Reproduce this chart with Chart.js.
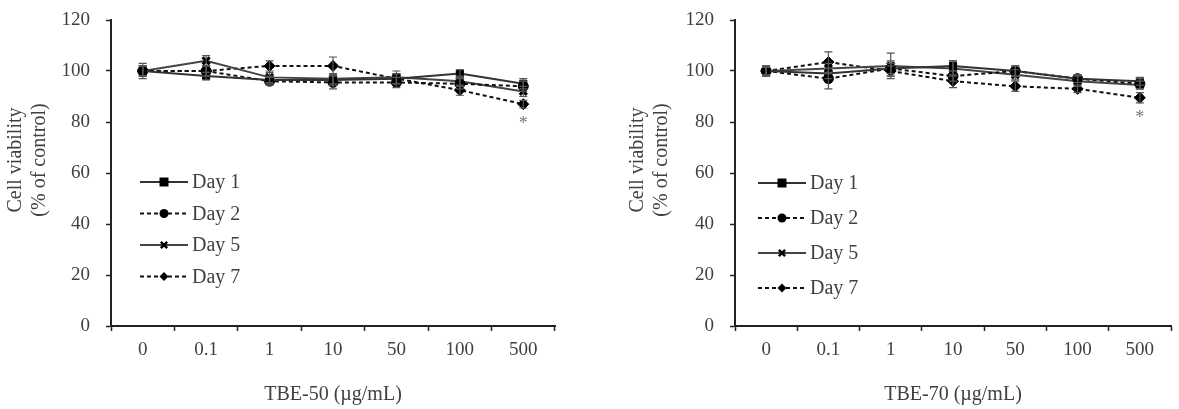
<!DOCTYPE html>
<html>
<head>
<meta charset="utf-8">
<script src="https://cdn.jsdelivr.net/npm/chart.js@4.4.0/dist/chart.umd.min.js"></script>
<style>
    html, body { margin: 0; padding: 0; background: #fff; }
    #wrap { position: relative; width: 1179px; height: 409px; }
    .box { position: absolute; top: 0; height: 409px; }
    #boxA { left: 0; width: 590px; }
    #boxB { left: 590px; width: 589px; }
</style>
</head>
<body>
<div id="wrap">
    <div class="box" id="boxA"><canvas id="chartA"></canvas></div>
    <div class="box" id="boxB"><canvas id="chartB"></canvas></div>
</div>
<script>
// concentrations (µg/mL)
const doses = ['0', '0.1', '1', '10', '50', '100', '500'];
const seriesNames = ['Day 1', 'Day 2', 'Day 5', 'Day 7'];
const yTicks = [0, 20, 40, 60, 80, 100, 120];
const yTitle = ['Cell viability', '(% of control)'];

// TBE-50, cell viability (% of control)
const tbe50Day1 = [100, 98, 96.5, 96.5, 97, 99, 95];
const tbe50Day2 = [100, 100, 96, 95.5, 95.5, 95, 94];
const tbe50Day5 = [100, 104, 97.5, 97, 97.5, 96, 92];
const tbe50Day7 = [100, 100, 102, 102, 97, 92.5, 87];
const tbe50Err1 = [3, 1.5, 1.5, 2, 2, 1.5, 2];
const tbe50Err2 = [2, 2, 1.5, 2.5, 2, 2, 2];
const tbe50Err5 = [2, 2, 2, 2, 2.5, 2, 2];
const tbe50Err7 = [2, 2, 2, 3.5, 2, 2, 1.5];

// TBE-70, cell viability (% of control)
const tbe70Day1 = [100, 99, 101, 102, 100, 97, 96];
const tbe70Day2 = [100, 97, 101, 98, 100, 97, 95];
const tbe70Day5 = [100, 101, 102, 101, 98.5, 96, 94.5];
const tbe70Day7 = [100, 103.5, 100, 96, 94, 93, 89.5];
const tbe70Err1 = [2, 2, 2, 2, 2, 1.5, 1.5];
const tbe70Err2 = [1.5, 4, 3, 2, 2, 1.5, 2];
const tbe70Err5 = [2, 2, 5, 3, 2, 2, 1.5];
const tbe70Err7 = [1.5, 4, 2, 2.5, 2, 1.5, 2];

// significance marks (Day 7)
const sigDay7 = ['', '', '', '', '', '', '*'];

const FONT = '"Liberation Serif", "Times New Roman", serif';
const TEXT = '#404040';
const AXIS = '#222';

const seriesStyle = [
    { color: '#333', dash: [], marker: 'rect', radius: 5 },
    { color: '#111', dash: [4, 3], marker: 'circle', radius: 5 },
    { color: '#444', dash: [], marker: 'crossRot', radius: 5 },
    { color: '#111', dash: [4, 3], marker: 'rectRot', radius: 5.5 }
];

function makeDatasets(values, errors) {
    return values.map((vals, i) => ({
        label: seriesNames[i],
        data: vals,
        errors: errors[i],
        sig: i === 3 ? sigDay7 : null,
        borderColor: seriesStyle[i].color,
        borderDash: seriesStyle[i].dash,
        borderWidth: 2,
        pointStyle: seriesStyle[i].marker,
        pointRadius: seriesStyle[i].radius,
        pointBackgroundColor: '#000',
        pointBorderColor: '#000',
        pointBorderWidth: i === 2 ? 3 : 1,
        tension: 0,
        fill: false
    }));
}

// error bars + significance asterisk, drawn through the scales
const errorBars = {
    id: 'errorBars',
    afterDatasetsDraw(chart) {
        const ctx = chart.ctx;
        const y = chart.scales.y;
        ctx.save();
        chart.data.datasets.forEach((ds, di) => {
            const meta = chart.getDatasetMeta(di);
            meta.data.forEach((pt, j) => {
                const e = ds.errors[j];
                const top = y.getPixelForValue(ds.data[j] + e);
                const bot = y.getPixelForValue(ds.data[j] - e);
                ctx.strokeStyle = '#555';
                ctx.lineWidth = 1.2;
                ctx.setLineDash([]);
                ctx.beginPath();
                ctx.moveTo(pt.x, top); ctx.lineTo(pt.x, bot);
                ctx.moveTo(pt.x - 4, top); ctx.lineTo(pt.x + 4, top);
                ctx.moveTo(pt.x - 4, bot); ctx.lineTo(pt.x + 4, bot);
                ctx.stroke();
                if (ds.sig && ds.sig[j]) {
                    ctx.fillStyle = '#777';
                    ctx.font = '18px ' + FONT;
                    ctx.textAlign = 'center';
                    ctx.textBaseline = 'middle';
                    ctx.fillText(ds.sig[j], pt.x, pt.y + 20);
                }
            });
        });
        ctx.restore();
    }
};

function drawMarker(ctx, style, x, y, r) {
    ctx.beginPath();
    if (style === 'rect') {
        ctx.rect(x - r, y - r, 2 * r, 2 * r);
        ctx.fill();
    } else if (style === 'circle') {
        ctx.arc(x, y, r, 0, Math.PI * 2);
        ctx.fill();
    } else if (style === 'rectRot') {
        ctx.moveTo(x, y - r); ctx.lineTo(x + r, y); ctx.lineTo(x, y + r); ctx.lineTo(x - r, y);
        ctx.closePath();
        ctx.fill();
    } else {
        ctx.lineWidth = 2.5;
        ctx.moveTo(x - r * 0.7, y - r * 0.7); ctx.lineTo(x + r * 0.7, y + r * 0.7);
        ctx.moveTo(x + r * 0.7, y - r * 0.7); ctx.lineTo(x - r * 0.7, y + r * 0.7);
        ctx.stroke();
    }
}

// legend inside the plot area + y title (sits a bit above centre in the original)
const innerLegend = {
    id: 'innerLegend',
    afterDraw(chart, args, opts) {
        const ctx = chart.ctx;
        const area = chart.chartArea;
        ctx.save();
        chart.data.datasets.forEach((ds, i) => {
            const ly = area.top + opts.top + i * opts.gap;
            const x0 = area.left + opts.left;
            const x1 = x0 + 48;
            ctx.strokeStyle = ds.borderColor;
            ctx.lineWidth = 2;
            ctx.setLineDash(ds.borderDash);
            ctx.beginPath();
            ctx.moveTo(x0, ly); ctx.lineTo(x1, ly);
            ctx.stroke();
            ctx.setLineDash([]);
            ctx.fillStyle = '#000';
            ctx.strokeStyle = '#000';
            drawMarker(ctx, ds.pointStyle, (x0 + x1) / 2, ly, 4.5);
            ctx.fillStyle = TEXT;
            ctx.font = '20px ' + FONT;
            ctx.textAlign = 'left';
            ctx.textBaseline = 'middle';
            ctx.fillText(ds.label, x1 + 4, ly + 1);
        });

        ctx.translate(opts.titleX, (area.top + area.bottom) / 2 - 13);
        ctx.rotate(-Math.PI / 2);
        ctx.fillStyle = TEXT;
        ctx.font = '20px ' + FONT;
        ctx.textAlign = 'center';
        ctx.textBaseline = 'middle';
        yTitle.forEach((line, i) => ctx.fillText(line, 0, i * 24));
        ctx.restore();
    }
};

function makeChart(id, values, errors, xTitle, yWidth, padRight, legendOpts) {
    const ctx = document.getElementById(id).getContext('2d');
    return new Chart(ctx, {
        type: 'line',
        data: { labels: doses, datasets: makeDatasets(values, errors) },
        plugins: [errorBars, innerLegend],
        options: {
            responsive: true,
            maintainAspectRatio: false,
            animation: false,
            layout: { padding: { top: 20, right: padRight, bottom: 0, left: 0 } },
            plugins: {
                legend: { display: false },
                tooltip: { enabled: false },
                innerLegend: legendOpts
            },
            scales: {
                x: {
                    offset: true,
                    grid: { offset: true, drawOnChartArea: false, drawTicks: true, tickLength: 5, color: AXIS, tickWidth: 1.5 },
                    border: { color: AXIS, width: 2 },
                    ticks: { color: TEXT, font: { family: FONT, size: 19 }, padding: 8, maxRotation: 0 },
                    title: { display: true, text: xTitle, color: TEXT, font: { family: FONT, size: 20 }, padding: { top: 0, bottom: 2 } },
                    afterFit(scale) { scale.height = 83; }
                },
                y: {
                    min: 0,
                    max: 120,
                    afterBuildTicks(scale) { scale.ticks = yTicks.map(v => ({ value: v })); },
                    grid: { drawOnChartArea: false, drawTicks: true, tickLength: 5, color: AXIS, tickWidth: 1.5 },
                    border: { color: AXIS, width: 2 },
                    ticks: { color: TEXT, font: { family: FONT, size: 19 }, padding: 16 },
                    afterFit(scale) {
                        scale.width = yWidth;
                        scale.paddingTop = 0;
                        scale.paddingBottom = 0;
                    }
                }
            }
        }
    });
}

document.addEventListener('DOMContentLoaded', () => {
    makeChart('chartA',
        [tbe50Day1, tbe50Day2, tbe50Day5, tbe50Day7],
        [tbe50Err1, tbe50Err2, tbe50Err5, tbe50Err7],
        'TBE-50 (µg/mL)', 111, 35, { left: 29, top: 162, gap: 31.5, titleX: 16 });
    makeChart('chartB',
        [tbe70Day1, tbe70Day2, tbe70Day5, tbe70Day7],
        [tbe70Err1, tbe70Err2, tbe70Err5, tbe70Err7],
        'TBE-70 (µg/mL)', 145, 1, { left: 23, top: 163, gap: 35, titleX: 48 });
});
</script>
</body>
</html>
